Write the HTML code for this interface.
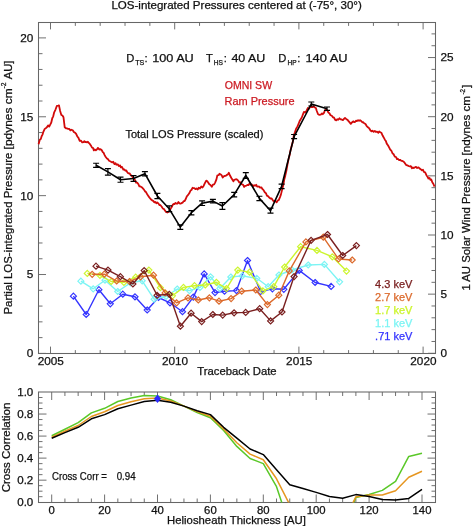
<!DOCTYPE html>
<html><head><meta charset="utf-8"><style>
html,body{margin:0;padding:0;background:#fff;}
svg{display:block;will-change:transform;}
text{font-family:"Liberation Sans", sans-serif;stroke:currentColor;stroke-width:0.25px;}
</style></head><body>
<svg width="473" height="526" viewBox="0 0 473 526">
<rect width="473" height="526" fill="#fff"/>
<line x1="50.50" y1="353.50" x2="50.50" y2="346.60" stroke="#707070" stroke-width="1.0"/>
<line x1="50.50" y1="22.50" x2="50.50" y2="29.40" stroke="#707070" stroke-width="1.0"/>
<line x1="75.34" y1="353.50" x2="75.34" y2="350.10" stroke="#707070" stroke-width="1.0"/>
<line x1="75.34" y1="22.50" x2="75.34" y2="25.90" stroke="#707070" stroke-width="1.0"/>
<line x1="100.18" y1="353.50" x2="100.18" y2="350.10" stroke="#707070" stroke-width="1.0"/>
<line x1="100.18" y1="22.50" x2="100.18" y2="25.90" stroke="#707070" stroke-width="1.0"/>
<line x1="125.02" y1="353.50" x2="125.02" y2="350.10" stroke="#707070" stroke-width="1.0"/>
<line x1="125.02" y1="22.50" x2="125.02" y2="25.90" stroke="#707070" stroke-width="1.0"/>
<line x1="149.86" y1="353.50" x2="149.86" y2="350.10" stroke="#707070" stroke-width="1.0"/>
<line x1="149.86" y1="22.50" x2="149.86" y2="25.90" stroke="#707070" stroke-width="1.0"/>
<line x1="174.70" y1="353.50" x2="174.70" y2="346.60" stroke="#707070" stroke-width="1.0"/>
<line x1="174.70" y1="22.50" x2="174.70" y2="29.40" stroke="#707070" stroke-width="1.0"/>
<line x1="199.54" y1="353.50" x2="199.54" y2="350.10" stroke="#707070" stroke-width="1.0"/>
<line x1="199.54" y1="22.50" x2="199.54" y2="25.90" stroke="#707070" stroke-width="1.0"/>
<line x1="224.38" y1="353.50" x2="224.38" y2="350.10" stroke="#707070" stroke-width="1.0"/>
<line x1="224.38" y1="22.50" x2="224.38" y2="25.90" stroke="#707070" stroke-width="1.0"/>
<line x1="249.22" y1="353.50" x2="249.22" y2="350.10" stroke="#707070" stroke-width="1.0"/>
<line x1="249.22" y1="22.50" x2="249.22" y2="25.90" stroke="#707070" stroke-width="1.0"/>
<line x1="274.06" y1="353.50" x2="274.06" y2="350.10" stroke="#707070" stroke-width="1.0"/>
<line x1="274.06" y1="22.50" x2="274.06" y2="25.90" stroke="#707070" stroke-width="1.0"/>
<line x1="298.90" y1="353.50" x2="298.90" y2="346.60" stroke="#707070" stroke-width="1.0"/>
<line x1="298.90" y1="22.50" x2="298.90" y2="29.40" stroke="#707070" stroke-width="1.0"/>
<line x1="323.74" y1="353.50" x2="323.74" y2="350.10" stroke="#707070" stroke-width="1.0"/>
<line x1="323.74" y1="22.50" x2="323.74" y2="25.90" stroke="#707070" stroke-width="1.0"/>
<line x1="348.58" y1="353.50" x2="348.58" y2="350.10" stroke="#707070" stroke-width="1.0"/>
<line x1="348.58" y1="22.50" x2="348.58" y2="25.90" stroke="#707070" stroke-width="1.0"/>
<line x1="373.42" y1="353.50" x2="373.42" y2="350.10" stroke="#707070" stroke-width="1.0"/>
<line x1="373.42" y1="22.50" x2="373.42" y2="25.90" stroke="#707070" stroke-width="1.0"/>
<line x1="398.26" y1="353.50" x2="398.26" y2="350.10" stroke="#707070" stroke-width="1.0"/>
<line x1="398.26" y1="22.50" x2="398.26" y2="25.90" stroke="#707070" stroke-width="1.0"/>
<line x1="423.10" y1="353.50" x2="423.10" y2="346.60" stroke="#707070" stroke-width="1.0"/>
<line x1="423.10" y1="22.50" x2="423.10" y2="29.40" stroke="#707070" stroke-width="1.0"/>
<line x1="38.50" y1="353.40" x2="46.00" y2="353.40" stroke="#707070" stroke-width="1.0"/>
<line x1="38.50" y1="337.62" x2="42.50" y2="337.62" stroke="#707070" stroke-width="1.0"/>
<line x1="38.50" y1="321.85" x2="42.50" y2="321.85" stroke="#707070" stroke-width="1.0"/>
<line x1="38.50" y1="306.07" x2="42.50" y2="306.07" stroke="#707070" stroke-width="1.0"/>
<line x1="38.50" y1="290.30" x2="42.50" y2="290.30" stroke="#707070" stroke-width="1.0"/>
<line x1="38.50" y1="274.52" x2="46.00" y2="274.52" stroke="#707070" stroke-width="1.0"/>
<line x1="38.50" y1="258.75" x2="42.50" y2="258.75" stroke="#707070" stroke-width="1.0"/>
<line x1="38.50" y1="242.97" x2="42.50" y2="242.97" stroke="#707070" stroke-width="1.0"/>
<line x1="38.50" y1="227.20" x2="42.50" y2="227.20" stroke="#707070" stroke-width="1.0"/>
<line x1="38.50" y1="211.42" x2="42.50" y2="211.42" stroke="#707070" stroke-width="1.0"/>
<line x1="38.50" y1="195.65" x2="46.00" y2="195.65" stroke="#707070" stroke-width="1.0"/>
<line x1="38.50" y1="179.87" x2="42.50" y2="179.87" stroke="#707070" stroke-width="1.0"/>
<line x1="38.50" y1="164.10" x2="42.50" y2="164.10" stroke="#707070" stroke-width="1.0"/>
<line x1="38.50" y1="148.32" x2="42.50" y2="148.32" stroke="#707070" stroke-width="1.0"/>
<line x1="38.50" y1="132.55" x2="42.50" y2="132.55" stroke="#707070" stroke-width="1.0"/>
<line x1="38.50" y1="116.77" x2="46.00" y2="116.77" stroke="#707070" stroke-width="1.0"/>
<line x1="38.50" y1="101.00" x2="42.50" y2="101.00" stroke="#707070" stroke-width="1.0"/>
<line x1="38.50" y1="85.22" x2="42.50" y2="85.22" stroke="#707070" stroke-width="1.0"/>
<line x1="38.50" y1="69.45" x2="42.50" y2="69.45" stroke="#707070" stroke-width="1.0"/>
<line x1="38.50" y1="53.67" x2="42.50" y2="53.67" stroke="#707070" stroke-width="1.0"/>
<line x1="38.50" y1="37.90" x2="46.00" y2="37.90" stroke="#707070" stroke-width="1.0"/>
<line x1="435.50" y1="353.30" x2="428.00" y2="353.30" stroke="#707070" stroke-width="1.0"/>
<line x1="435.50" y1="341.47" x2="431.50" y2="341.47" stroke="#707070" stroke-width="1.0"/>
<line x1="435.50" y1="329.64" x2="431.50" y2="329.64" stroke="#707070" stroke-width="1.0"/>
<line x1="435.50" y1="317.81" x2="431.50" y2="317.81" stroke="#707070" stroke-width="1.0"/>
<line x1="435.50" y1="305.98" x2="431.50" y2="305.98" stroke="#707070" stroke-width="1.0"/>
<line x1="435.50" y1="294.15" x2="428.00" y2="294.15" stroke="#707070" stroke-width="1.0"/>
<line x1="435.50" y1="282.32" x2="431.50" y2="282.32" stroke="#707070" stroke-width="1.0"/>
<line x1="435.50" y1="270.49" x2="431.50" y2="270.49" stroke="#707070" stroke-width="1.0"/>
<line x1="435.50" y1="258.66" x2="431.50" y2="258.66" stroke="#707070" stroke-width="1.0"/>
<line x1="435.50" y1="246.83" x2="431.50" y2="246.83" stroke="#707070" stroke-width="1.0"/>
<line x1="435.50" y1="235.00" x2="428.00" y2="235.00" stroke="#707070" stroke-width="1.0"/>
<line x1="435.50" y1="223.17" x2="431.50" y2="223.17" stroke="#707070" stroke-width="1.0"/>
<line x1="435.50" y1="211.34" x2="431.50" y2="211.34" stroke="#707070" stroke-width="1.0"/>
<line x1="435.50" y1="199.51" x2="431.50" y2="199.51" stroke="#707070" stroke-width="1.0"/>
<line x1="435.50" y1="187.68" x2="431.50" y2="187.68" stroke="#707070" stroke-width="1.0"/>
<line x1="435.50" y1="175.85" x2="428.00" y2="175.85" stroke="#707070" stroke-width="1.0"/>
<line x1="435.50" y1="164.02" x2="431.50" y2="164.02" stroke="#707070" stroke-width="1.0"/>
<line x1="435.50" y1="152.19" x2="431.50" y2="152.19" stroke="#707070" stroke-width="1.0"/>
<line x1="435.50" y1="140.36" x2="431.50" y2="140.36" stroke="#707070" stroke-width="1.0"/>
<line x1="435.50" y1="128.53" x2="431.50" y2="128.53" stroke="#707070" stroke-width="1.0"/>
<line x1="435.50" y1="116.70" x2="428.00" y2="116.70" stroke="#707070" stroke-width="1.0"/>
<line x1="435.50" y1="104.87" x2="431.50" y2="104.87" stroke="#707070" stroke-width="1.0"/>
<line x1="435.50" y1="93.04" x2="431.50" y2="93.04" stroke="#707070" stroke-width="1.0"/>
<line x1="435.50" y1="81.21" x2="431.50" y2="81.21" stroke="#707070" stroke-width="1.0"/>
<line x1="435.50" y1="69.38" x2="431.50" y2="69.38" stroke="#707070" stroke-width="1.0"/>
<line x1="435.50" y1="57.55" x2="428.00" y2="57.55" stroke="#707070" stroke-width="1.0"/>
<line x1="435.50" y1="45.72" x2="431.50" y2="45.72" stroke="#707070" stroke-width="1.0"/>
<line x1="435.50" y1="33.89" x2="431.50" y2="33.89" stroke="#707070" stroke-width="1.0"/>
<rect x="38.5" y="22.5" width="397.0" height="331.0" fill="none" stroke="#666666" stroke-width="1.05"/>
<polyline points="38.60,144.24 39.79,139.68 40.81,139.01 41.63,136.24 42.49,134.62 43.36,131.79 44.73,128.87 46.12,127.92 47.09,127.01 48.07,125.33 49.22,126.55 50.35,124.36 51.28,122.53 52.26,118.27 53.24,116.32 54.19,112.33 55.52,109.52 56.90,105.77 58.16,105.58 58.98,105.35 60.13,110.93 61.34,114.95 62.42,115.51 63.50,117.28 64.72,127.27 66.01,128.31 67.22,128.45 68.12,128.94 69.38,128.98 70.41,130.37 71.48,129.73 72.77,130.22 73.82,132.01 75.20,132.83 76.14,133.91 77.29,136.49 78.34,137.70 79.71,140.85 80.88,140.58 82.22,142.35 83.50,142.07 84.36,141.17 85.20,142.12 86.21,141.93 87.10,142.42 87.91,141.73 88.80,142.93 89.82,143.96 91.22,146.11 92.07,147.69 93.03,147.95 93.84,150.34 94.73,149.43 95.85,150.22 97.06,149.19 97.97,147.87 99.23,149.56 100.52,149.20 101.80,150.27 102.74,152.12 103.56,152.73 104.51,154.89 105.58,156.75 106.95,158.57 107.89,159.09 109.06,160.76 110.15,161.23 111.00,161.68 112.27,162.41 113.18,161.78 114.46,164.12 115.50,163.21 116.40,164.72 117.75,164.40 119.04,166.14 120.05,165.36 120.86,167.41 121.98,166.96 123.30,169.68 124.25,169.41 125.40,170.78 126.28,170.36 127.36,172.34 128.41,173.44 129.53,173.32 130.59,175.06 131.87,175.86 133.11,178.18 134.22,178.93 135.08,180.27 136.05,182.60 137.18,182.64 138.25,183.98 139.36,186.37 140.48,186.43 141.70,187.18 142.65,188.21 143.96,189.60 145.02,191.36 145.87,191.87 147.20,194.20 148.40,196.13 149.78,197.95 150.82,199.28 152.12,200.40 153.23,200.88 154.22,202.34 155.35,201.91 156.35,203.35 157.19,202.41 158.57,203.67 159.40,205.16 160.27,205.02 161.56,206.48 162.92,208.62 163.77,208.83 164.82,210.18 166.01,211.95 167.32,212.54 168.39,212.00 169.75,210.65 170.86,208.18 171.76,206.98 172.75,204.76 173.72,203.94 174.73,204.00 175.54,202.87 176.45,203.60 177.32,203.64 178.41,202.03 179.52,203.33 180.52,203.67 181.70,202.89 182.54,202.75 183.78,201.04 184.63,201.16 185.84,198.78 186.81,196.34 187.88,195.22 189.26,193.34 190.64,190.47 191.44,189.99 192.54,187.78 193.35,188.04 194.39,188.21 195.37,189.16 196.49,188.43 197.72,189.48 198.71,187.73 199.95,188.48 201.25,186.55 202.49,187.45 203.60,185.97 204.88,183.13 206.22,180.70 207.16,181.02 208.17,182.42 209.31,184.26 210.52,184.94 211.80,186.87 212.92,184.68 214.16,184.41 215.12,182.62 216.36,179.63 217.39,175.30 218.65,175.22 219.50,173.78 220.75,174.47 221.55,175.12 222.76,177.51 223.73,176.34 224.81,175.95 225.73,175.82 226.54,175.07 227.92,174.39 228.85,172.76 230.00,175.51 231.37,178.04 232.47,179.73 233.41,181.36 234.23,179.92 235.30,179.52 236.30,179.16 237.10,179.63 237.98,180.35 239.32,182.57 240.35,182.26 241.37,184.23 242.20,184.43 243.17,184.82 244.13,186.99 245.15,185.95 246.44,185.54 247.81,184.81 248.63,185.08 249.89,182.81 250.72,184.74 251.80,184.48 253.04,186.28 254.24,185.19 255.27,185.72 256.20,184.77 257.13,186.60 258.20,186.60 259.05,186.49 260.00,187.58 261.33,187.34 262.38,188.96 263.38,189.85 264.76,192.27 265.94,193.16 266.90,195.58 267.97,196.14 269.29,197.52 270.52,198.66 271.67,198.47 273.03,200.61 274.41,201.42 275.30,200.89 276.67,202.28 277.93,200.28 278.75,200.09 280.10,196.84 280.98,194.40 282.20,189.40 283.31,184.98 284.25,179.59 285.23,175.93 286.42,170.54 287.36,165.04 288.58,159.14 289.68,154.76 290.63,149.62 291.57,146.23 292.62,142.61 293.90,134.99 294.82,132.59 296.11,128.78 297.37,126.66 298.47,124.23 299.52,121.30 300.41,119.71 301.79,117.52 302.63,115.20 303.96,111.89 305.32,112.56 306.68,110.39 307.88,108.00 308.87,108.82 309.84,107.47 310.72,105.62 311.73,107.21 312.79,107.22 313.81,106.22 314.83,107.40 315.88,108.03 316.70,110.78 318.06,114.21 319.39,114.81 320.77,114.63 322.00,113.43 322.80,114.20 323.98,112.92 324.92,110.29 326.29,109.67 327.35,110.35 328.26,112.39 329.56,113.48 330.55,115.20 331.82,115.77 333.07,117.45 333.89,117.49 335.28,119.98 336.24,120.31 337.34,119.26 338.28,119.81 339.48,118.32 340.68,119.33 341.66,119.49 342.90,120.10 343.85,118.95 345.00,117.99 346.39,119.19 347.68,119.91 348.54,121.19 349.84,122.64 350.82,123.83 352.20,122.20 353.23,121.31 354.18,122.21 355.05,121.84 355.98,120.70 356.90,121.08 358.09,120.23 359.09,120.76 360.07,120.25 361.20,121.01 362.24,122.25 363.09,122.05 364.14,123.24 365.51,124.04 366.53,125.79 367.92,127.29 369.16,128.18 370.50,130.44 371.55,131.30 372.44,130.68 373.63,131.81 374.80,131.00 375.69,131.85 377.04,131.61 378.33,132.78 379.20,131.40 380.29,132.21 381.33,132.73 382.62,135.57 383.55,137.19 384.85,139.67 385.89,141.09 386.76,143.60 388.10,145.46 389.36,147.81 390.23,149.67 391.40,150.75 392.55,153.33 393.62,154.27 394.79,156.56 396.05,156.99 396.96,159.16 397.84,158.76 398.90,160.00 400.08,159.80 401.35,160.87 402.45,160.96 403.33,161.48 404.57,162.72 405.96,164.83 407.31,165.35 408.67,166.03 409.92,166.27 410.89,166.27 411.99,168.21 412.95,167.47 413.77,168.14 415.13,167.15 416.03,166.96 417.15,168.01 418.48,167.33 419.80,168.63 420.98,169.39 421.94,170.27 422.96,169.74 423.86,171.93 425.16,172.36 426.55,175.46 427.53,176.78 428.42,178.49 429.53,177.98 430.47,179.89 431.27,179.53 432.28,182.15 433.44,183.99 434.52,186.63" fill="none" stroke="#d20a0a" stroke-width="1.8" stroke-linejoin="round"/>
<polyline points="96.1,165.3 107.9,171.9 120.5,179.7 133.5,178.5 144.9,173.7 157.4,196.0 169.2,208.8 180.3,227.1 191.4,212.7 202.1,203.2 212.9,201.1 222.4,206.0 234.2,194.6 245.8,175.5 259.4,198.4 270.5,210.7 281.6,186.3 294.1,136.6 311.3,104.0 327.0,108.7" fill="none" stroke="#000" stroke-width="1.6" stroke-linejoin="round"/>
<path d="M96.1,163.25V167.35000000000002M93.1,163.25H99.1M93.1,167.35000000000002H99.1" stroke="#000" stroke-width="1.2" fill="none"/>
<path d="M107.9,168.6V175.20000000000002M104.9,168.6H110.9M104.9,175.20000000000002H110.9" stroke="#000" stroke-width="1.2" fill="none"/>
<path d="M120.5,177.14999999999998V182.25M117.5,177.14999999999998H123.5M117.5,182.25H123.5" stroke="#000" stroke-width="1.2" fill="none"/>
<path d="M133.5,175.6V181.4M130.5,175.6H136.5M130.5,181.4H136.5" stroke="#000" stroke-width="1.2" fill="none"/>
<path d="M144.9,171.6V175.79999999999998M141.9,171.6H147.9M141.9,175.79999999999998H147.9" stroke="#000" stroke-width="1.2" fill="none"/>
<path d="M157.4,193.35V198.65M154.4,193.35H160.4M154.4,198.65H160.4" stroke="#000" stroke-width="1.2" fill="none"/>
<path d="M169.2,205.95000000000002V211.65M166.2,205.95000000000002H172.2M166.2,211.65H172.2" stroke="#000" stroke-width="1.2" fill="none"/>
<path d="M180.3,224.79999999999998V229.4M177.3,224.79999999999998H183.3M177.3,229.4H183.3" stroke="#000" stroke-width="1.2" fill="none"/>
<path d="M191.4,210.54999999999998V214.85M188.4,210.54999999999998H194.4M188.4,214.85H194.4" stroke="#000" stroke-width="1.2" fill="none"/>
<path d="M202.1,200.89999999999998V205.5M199.1,200.89999999999998H205.1M199.1,205.5H205.1" stroke="#000" stroke-width="1.2" fill="none"/>
<path d="M212.9,199.29999999999998V202.9M209.9,199.29999999999998H215.9M209.9,202.9H215.9" stroke="#000" stroke-width="1.2" fill="none"/>
<path d="M222.4,202.7V209.3M219.4,202.7H225.4M219.4,209.3H225.4" stroke="#000" stroke-width="1.2" fill="none"/>
<path d="M234.2,192.29999999999998V196.9M231.2,192.29999999999998H237.2M231.2,196.9H237.2" stroke="#000" stroke-width="1.2" fill="none"/>
<path d="M245.8,172.6V178.4M242.8,172.6H248.8M242.8,178.4H248.8" stroke="#000" stroke-width="1.2" fill="none"/>
<path d="M259.4,196.25V200.55M256.4,196.25H262.4M256.4,200.55H262.4" stroke="#000" stroke-width="1.2" fill="none"/>
<path d="M270.5,208.2V213.2M267.5,208.2H273.5M267.5,213.2H273.5" stroke="#000" stroke-width="1.2" fill="none"/>
<path d="M281.6,184.05V188.55M278.6,184.05H284.6M278.6,188.55H284.6" stroke="#000" stroke-width="1.2" fill="none"/>
<path d="M294.1,134.5V138.7M291.1,134.5H297.1M291.1,138.7H297.1" stroke="#000" stroke-width="1.2" fill="none"/>
<path d="M311.3,102.0V106.0M308.3,102.0H314.3M308.3,106.0H314.3" stroke="#000" stroke-width="1.2" fill="none"/>
<path d="M327.0,107.0V110.4M324.0,107.0H330.0M324.0,110.4H330.0" stroke="#000" stroke-width="1.2" fill="none"/>
<polyline points="73.4,296.2 86.2,314.5 98.9,289.7 110.3,303.8 122.8,294.2 135,296.8 147.2,310 158.5,297.5 170,302.8 182.5,311.7 193.3,297.1 204.2,273.9 215,292.6 224.5,291.2 236.5,290.6 247.5,260.5 260.5,291.6 272.4,288.8 283.8,289.3 299.2,270.4 315.1,282.5 331.1,286.4" fill="none" stroke="#3434ff" stroke-width="1.4" stroke-linejoin="round"/>
<path d="M73.4,293.2L76.4,296.2L73.4,299.2L70.4,296.2ZM86.2,311.5L89.2,314.5L86.2,317.5L83.2,314.5ZM98.9,286.7L101.9,289.7L98.9,292.7L95.9,289.7ZM110.3,300.8L113.3,303.8L110.3,306.8L107.3,303.8ZM122.8,291.2L125.8,294.2L122.8,297.2L119.8,294.2ZM135,293.8L138.0,296.8L135,299.8L132.0,296.8ZM147.2,307.0L150.2,310L147.2,313.0L144.2,310ZM158.5,294.5L161.5,297.5L158.5,300.5L155.5,297.5ZM170,299.8L173.0,302.8L170,305.8L167.0,302.8ZM182.5,308.7L185.5,311.7L182.5,314.7L179.5,311.7ZM193.3,294.1L196.3,297.1L193.3,300.1L190.3,297.1ZM204.2,270.9L207.2,273.9L204.2,276.9L201.2,273.9ZM215,289.6L218.0,292.6L215,295.6L212.0,292.6ZM224.5,288.2L227.5,291.2L224.5,294.2L221.5,291.2ZM236.5,287.6L239.5,290.6L236.5,293.6L233.5,290.6ZM247.5,257.5L250.5,260.5L247.5,263.5L244.5,260.5ZM260.5,288.6L263.5,291.6L260.5,294.6L257.5,291.6ZM272.4,285.8L275.4,288.8L272.4,291.8L269.4,288.8ZM283.8,286.3L286.8,289.3L283.8,292.3L280.8,289.3ZM299.2,267.4L302.2,270.4L299.2,273.4L296.2,270.4ZM315.1,279.5L318.1,282.5L315.1,285.5L312.1,282.5ZM331.1,283.4L334.1,286.4L331.1,289.4L328.1,286.4Z" fill="none" stroke="#3434ff" stroke-width="1.2"/>
<polyline points="80.9,281.2 93.2,288.8 105,280.2 117.7,291.5 130.4,282.8 142.2,280.8 154.1,299.2 166,296.5 177.2,289 189.4,290.6 200,287.4 210.6,276.8 219.9,288.4 230.8,277 242.2,275.9 256.8,278.3 268.2,286.7 278.9,275 292,270 308.2,265 324.4,264.4 339.6,281.8" fill="none" stroke="#7cf4f4" stroke-width="1.4" stroke-linejoin="round"/>
<path d="M80.9,278.2L83.9,281.2L80.9,284.2L77.9,281.2ZM93.2,285.8L96.2,288.8L93.2,291.8L90.2,288.8ZM105,277.2L108.0,280.2L105,283.2L102.0,280.2ZM117.7,288.5L120.7,291.5L117.7,294.5L114.7,291.5ZM130.4,279.8L133.4,282.8L130.4,285.8L127.4,282.8ZM142.2,277.8L145.2,280.8L142.2,283.8L139.2,280.8ZM154.1,296.2L157.1,299.2L154.1,302.2L151.1,299.2ZM166,293.5L169.0,296.5L166,299.5L163.0,296.5ZM177.2,286.0L180.2,289L177.2,292.0L174.2,289ZM189.4,287.6L192.4,290.6L189.4,293.6L186.4,290.6ZM200,284.4L203.0,287.4L200,290.4L197.0,287.4ZM210.6,273.8L213.6,276.8L210.6,279.8L207.6,276.8ZM219.9,285.4L222.9,288.4L219.9,291.4L216.9,288.4ZM230.8,274.0L233.8,277L230.8,280.0L227.8,277ZM242.2,272.9L245.2,275.9L242.2,278.9L239.2,275.9ZM256.8,275.3L259.8,278.3L256.8,281.3L253.8,278.3ZM268.2,283.7L271.2,286.7L268.2,289.7L265.2,286.7ZM278.9,272.0L281.9,275L278.9,278.0L275.9,275ZM292,267.0L295.0,270L292,273.0L289.0,270ZM308.2,262.0L311.2,265L308.2,268.0L305.2,265ZM324.4,261.4L327.4,264.4L324.4,267.4L321.4,264.4ZM339.6,278.8L342.6,281.8L339.6,284.8L336.6,281.8Z" fill="none" stroke="#7cf4f4" stroke-width="1.2"/>
<polyline points="87.3,273.4 100,275.3 111.2,281.5 123.9,282.4 135.7,277.2 148.9,270.1 160.4,287.7 172.4,295.8 183.5,287.4 194.5,285.7 205.3,285 216.4,282.3 226.5,288.6 237.8,270.1 249.6,272.2 262.9,290.9 273.8,286.7 284.6,267 300.6,246.7 317,250.4 332.3,256.8 346.5,271.1" fill="none" stroke="#ccf52e" stroke-width="1.4" stroke-linejoin="round"/>
<path d="M87.3,270.4L90.3,273.4L87.3,276.4L84.3,273.4ZM100,272.3L103.0,275.3L100,278.3L97.0,275.3ZM111.2,278.5L114.2,281.5L111.2,284.5L108.2,281.5ZM123.9,279.4L126.9,282.4L123.9,285.4L120.9,282.4ZM135.7,274.2L138.7,277.2L135.7,280.2L132.7,277.2ZM148.9,267.1L151.9,270.1L148.9,273.1L145.9,270.1ZM160.4,284.7L163.4,287.7L160.4,290.7L157.4,287.7ZM172.4,292.8L175.4,295.8L172.4,298.8L169.4,295.8ZM183.5,284.4L186.5,287.4L183.5,290.4L180.5,287.4ZM194.5,282.7L197.5,285.7L194.5,288.7L191.5,285.7ZM205.3,282.0L208.3,285L205.3,288.0L202.3,285ZM216.4,279.3L219.4,282.3L216.4,285.3L213.4,282.3ZM226.5,285.6L229.5,288.6L226.5,291.6L223.5,288.6ZM237.8,267.1L240.8,270.1L237.8,273.1L234.8,270.1ZM249.6,269.2L252.6,272.2L249.6,275.2L246.6,272.2ZM262.9,287.9L265.9,290.9L262.9,293.9L259.9,290.9ZM273.8,283.7L276.8,286.7L273.8,289.7L270.8,286.7ZM284.6,264.0L287.6,267L284.6,270.0L281.6,267ZM300.6,243.7L303.6,246.7L300.6,249.7L297.6,246.7ZM317,247.4L320.0,250.4L317,253.4L314.0,250.4ZM332.3,253.8L335.3,256.8L332.3,259.8L329.3,256.8ZM346.5,268.1L349.5,271.1L346.5,274.1L343.5,271.1Z" fill="none" stroke="#ccf52e" stroke-width="1.2"/>
<polyline points="92.2,274.3 104.3,274.2 116.7,281 129.5,281.5 140.6,276.8 153.5,275.2 165.1,292.9 176.6,302.8 188,297.9 198.3,300 209.4,297.8 219,301.2 231.1,298.6 241.7,291.2 255.8,290 267.4,304.6 278.8,295.2 289.3,270.9 305.9,241.9 323.3,237.2 338.5,259 352.2,260" fill="none" stroke="#dc6a2c" stroke-width="1.4" stroke-linejoin="round"/>
<path d="M92.2,271.3L95.2,274.3L92.2,277.3L89.2,274.3ZM104.3,271.2L107.3,274.2L104.3,277.2L101.3,274.2ZM116.7,278.0L119.7,281L116.7,284.0L113.7,281ZM129.5,278.5L132.5,281.5L129.5,284.5L126.5,281.5ZM140.6,273.8L143.6,276.8L140.6,279.8L137.6,276.8ZM153.5,272.2L156.5,275.2L153.5,278.2L150.5,275.2ZM165.1,289.9L168.1,292.9L165.1,295.9L162.1,292.9ZM176.6,299.8L179.6,302.8L176.6,305.8L173.6,302.8ZM188,294.9L191.0,297.9L188,300.9L185.0,297.9ZM198.3,297.0L201.3,300L198.3,303.0L195.3,300ZM209.4,294.8L212.4,297.8L209.4,300.8L206.4,297.8ZM219,298.2L222.0,301.2L219,304.2L216.0,301.2ZM231.1,295.6L234.1,298.6L231.1,301.6L228.1,298.6ZM241.7,288.2L244.7,291.2L241.7,294.2L238.7,291.2ZM255.8,287.0L258.8,290L255.8,293.0L252.8,290ZM267.4,301.6L270.4,304.6L267.4,307.6L264.4,304.6ZM278.8,292.2L281.8,295.2L278.8,298.2L275.8,295.2ZM289.3,267.9L292.3,270.9L289.3,273.9L286.3,270.9ZM305.9,238.9L308.9,241.9L305.9,244.9L302.9,241.9ZM323.3,234.2L326.3,237.2L323.3,240.2L320.3,237.2ZM338.5,256.0L341.5,259L338.5,262.0L335.5,259ZM352.2,257.0L355.2,260L352.2,263.0L349.2,260Z" fill="none" stroke="#dc6a2c" stroke-width="1.2"/>
<polyline points="96.0,266.2 108.0,270.1 120.4,276.7 132.9,284.0 144.2,270.6 157.1,295.3 169.3,294.3 180.4,326.2 191.1,313.2 201.7,321.6 212.8,314.5 222.7,315.1 234.1,312.8 245.7,312.4 259.7,308.7 270.6,320.9 282,312 294.1,276.6 311.1,240.3 327.5,234.5 342.7,255.5 356.4,245.6" fill="none" stroke="#7a2020" stroke-width="1.4" stroke-linejoin="round"/>
<path d="M96.0,263.2L99.0,266.2L96.0,269.2L93.0,266.2ZM108.0,267.1L111.0,270.1L108.0,273.1L105.0,270.1ZM120.4,273.7L123.4,276.7L120.4,279.7L117.4,276.7ZM132.9,281.0L135.9,284.0L132.9,287.0L129.9,284.0ZM144.2,267.6L147.2,270.6L144.2,273.6L141.2,270.6ZM157.1,292.3L160.1,295.3L157.1,298.3L154.1,295.3ZM169.3,291.3L172.3,294.3L169.3,297.3L166.3,294.3ZM180.4,323.2L183.4,326.2L180.4,329.2L177.4,326.2ZM191.1,310.2L194.1,313.2L191.1,316.2L188.1,313.2ZM201.7,318.6L204.7,321.6L201.7,324.6L198.7,321.6ZM212.8,311.5L215.8,314.5L212.8,317.5L209.8,314.5ZM222.7,312.1L225.7,315.1L222.7,318.1L219.7,315.1ZM234.1,309.8L237.1,312.8L234.1,315.8L231.1,312.8ZM245.7,309.4L248.7,312.4L245.7,315.4L242.7,312.4ZM259.7,305.7L262.7,308.7L259.7,311.7L256.7,308.7ZM270.6,317.9L273.6,320.9L270.6,323.9L267.6,320.9ZM282,309.0L285.0,312L282,315.0L279.0,312ZM294.1,273.6L297.1,276.6L294.1,279.6L291.1,276.6ZM311.1,237.3L314.1,240.3L311.1,243.3L308.1,240.3ZM327.5,231.5L330.5,234.5L327.5,237.5L324.5,234.5ZM342.7,252.5L345.7,255.5L342.7,258.5L339.7,255.5ZM356.4,242.6L359.4,245.6L356.4,248.6L353.4,245.6Z" fill="none" stroke="#7a2020" stroke-width="1.2"/>
<text x="111.4" y="9.0" font-size="10.4" text-anchor="start" fill="#111" color="#111" textLength="250.4" lengthAdjust="spacingAndGlyphs">LOS-integrated Pressures centered at (-75°, 30°)</text>
<text x="126.2" y="61.7" font-size="11.2" text-anchor="start" fill="#111" color="#111">D</text>
<text x="135.2" y="64.6" font-size="6.8" text-anchor="start" fill="#111" color="#111" textLength="9.0" lengthAdjust="spacingAndGlyphs">TS</text>
<text x="144.6" y="61.7" font-size="11.2" text-anchor="start" fill="#111" color="#111">:</text>
<text x="152.2" y="61.7" font-size="11.2" text-anchor="start" fill="#111" color="#111" textLength="41.6" lengthAdjust="spacingAndGlyphs">100 AU</text>
<text x="206.1" y="61.7" font-size="11.2" text-anchor="start" fill="#111" color="#111">T</text>
<text x="213.7" y="64.6" font-size="6.8" text-anchor="start" fill="#111" color="#111" textLength="9.2" lengthAdjust="spacingAndGlyphs">HS</text>
<text x="223.7" y="61.7" font-size="11.2" text-anchor="start" fill="#111" color="#111">:</text>
<text x="231.4" y="61.7" font-size="11.2" text-anchor="start" fill="#111" color="#111" textLength="34.0" lengthAdjust="spacingAndGlyphs">40 AU</text>
<text x="278.2" y="61.7" font-size="11.2" text-anchor="start" fill="#111" color="#111">D</text>
<text x="287.5" y="64.6" font-size="6.8" text-anchor="start" fill="#111" color="#111" textLength="9.1" lengthAdjust="spacingAndGlyphs">HP</text>
<text x="297.2" y="61.7" font-size="11.2" text-anchor="start" fill="#111" color="#111">:</text>
<text x="305.4" y="61.7" font-size="11.2" text-anchor="start" fill="#111" color="#111" textLength="42.2" lengthAdjust="spacingAndGlyphs">140 AU</text>
<text x="224.7" y="88.6" font-size="10.8" text-anchor="start" fill="#cc1a22" color="#cc1a22" textLength="47.4" lengthAdjust="spacingAndGlyphs">OMNI SW</text>
<text x="224.5" y="105.1" font-size="10.8" text-anchor="start" fill="#cc1a22" color="#cc1a22" textLength="70" lengthAdjust="spacingAndGlyphs">Ram Pressure</text>
<text x="125.4" y="137.9" font-size="10.8" text-anchor="start" fill="#111" color="#111" textLength="138" lengthAdjust="spacingAndGlyphs">Total LOS Pressure (scaled)</text>
<text x="412.4" y="287.90" font-size="11" text-anchor="end" fill="#7a2020" color="#7a2020">4.3 keV</text>
<text x="412.4" y="300.83" font-size="11" text-anchor="end" fill="#dc6a2c" color="#dc6a2c">2.7 keV</text>
<text x="412.4" y="313.76" font-size="11" text-anchor="end" fill="#ccf52e" color="#ccf52e">1.7 keV</text>
<text x="412.4" y="326.69" font-size="11" text-anchor="end" fill="#7cf4f4" color="#7cf4f4">1.1 keV</text>
<text x="412.4" y="339.62" font-size="11" text-anchor="end" fill="#3434ff" color="#3434ff">.71 keV</text>
<text x="33.4" y="357.30" font-size="11" text-anchor="end" fill="#111" color="#111" textLength="6.55" lengthAdjust="spacingAndGlyphs">0</text>
<text x="33.4" y="278.42" font-size="11" text-anchor="end" fill="#111" color="#111" textLength="6.55" lengthAdjust="spacingAndGlyphs">5</text>
<text x="33.4" y="199.55" font-size="11" text-anchor="end" fill="#111" color="#111" textLength="13.09" lengthAdjust="spacingAndGlyphs">10</text>
<text x="33.4" y="120.67" font-size="11" text-anchor="end" fill="#111" color="#111" textLength="13.09" lengthAdjust="spacingAndGlyphs">15</text>
<text x="33.4" y="41.80" font-size="11" text-anchor="end" fill="#111" color="#111" textLength="13.09" lengthAdjust="spacingAndGlyphs">20</text>
<text x="440.4" y="357.20" font-size="11" text-anchor="start" fill="#111" color="#111" textLength="6.55" lengthAdjust="spacingAndGlyphs">0</text>
<text x="440.4" y="298.05" font-size="11" text-anchor="start" fill="#111" color="#111" textLength="6.55" lengthAdjust="spacingAndGlyphs">5</text>
<text x="440.4" y="238.90" font-size="11" text-anchor="start" fill="#111" color="#111" textLength="13.09" lengthAdjust="spacingAndGlyphs">10</text>
<text x="440.4" y="179.75" font-size="11" text-anchor="start" fill="#111" color="#111" textLength="13.09" lengthAdjust="spacingAndGlyphs">15</text>
<text x="440.4" y="120.60" font-size="11" text-anchor="start" fill="#111" color="#111" textLength="13.09" lengthAdjust="spacingAndGlyphs">20</text>
<text x="440.4" y="61.45" font-size="11" text-anchor="start" fill="#111" color="#111" textLength="13.09" lengthAdjust="spacingAndGlyphs">25</text>
<text x="50.80" y="364.8" font-size="11" text-anchor="middle" fill="#111" color="#111" textLength="26.18" lengthAdjust="spacingAndGlyphs">2005</text>
<text x="175.00" y="364.8" font-size="11" text-anchor="middle" fill="#111" color="#111" textLength="26.18" lengthAdjust="spacingAndGlyphs">2010</text>
<text x="299.20" y="364.8" font-size="11" text-anchor="middle" fill="#111" color="#111" textLength="26.18" lengthAdjust="spacingAndGlyphs">2015</text>
<text x="423.40" y="364.8" font-size="11" text-anchor="middle" fill="#111" color="#111" textLength="26.18" lengthAdjust="spacingAndGlyphs">2020</text>
<text x="237" y="375.2" font-size="10.6" text-anchor="middle" fill="#111" color="#111" textLength="79.3" lengthAdjust="spacingAndGlyphs">Traceback Date</text>
<text transform="translate(11.9,314.6) rotate(-90)" font-size="10.6" fill="#111" color="#111" textLength="162.00" lengthAdjust="spacingAndGlyphs">Partial LOS-integrated Pressure</text>
<text transform="translate(11.9,149.4) rotate(-90)" font-size="10.6" fill="#111" color="#111" textLength="61.00" lengthAdjust="spacingAndGlyphs">[pdynes cm</text>
<text transform="translate(6.2,88.6) rotate(-90)" font-size="6.8" fill="#111" color="#111" textLength="6.00" lengthAdjust="spacingAndGlyphs">-2</text>
<text transform="translate(11.9,79.2) rotate(-90)" font-size="10.6" fill="#111" color="#111" textLength="18.60" lengthAdjust="spacingAndGlyphs">AU]</text>
<text transform="translate(470.4,290.6) rotate(-90)" font-size="10.8" fill="#111" color="#111" textLength="132.10" lengthAdjust="spacingAndGlyphs">1 AU Solar Wind Pressure</text>
<text transform="translate(470.4,155.6) rotate(-90)" font-size="10.8" fill="#111" color="#111" textLength="59.70" lengthAdjust="spacingAndGlyphs">[ndynes cm</text>
<text transform="translate(464.8,94.5) rotate(-90)" font-size="6.8" fill="#111" color="#111" textLength="5.60" lengthAdjust="spacingAndGlyphs">-2</text>
<text transform="translate(470.4,88.0) rotate(-90)" font-size="10.8" fill="#111" color="#111" textLength="3.30" lengthAdjust="spacingAndGlyphs">]</text>
<line x1="51.70" y1="502.50" x2="51.70" y2="494.50" stroke="#707070" stroke-width="1.0"/>
<line x1="51.70" y1="392.00" x2="51.70" y2="400.00" stroke="#707070" stroke-width="1.0"/>
<line x1="64.92" y1="502.50" x2="64.92" y2="498.50" stroke="#707070" stroke-width="1.0"/>
<line x1="64.92" y1="392.00" x2="64.92" y2="396.00" stroke="#707070" stroke-width="1.0"/>
<line x1="78.15" y1="502.50" x2="78.15" y2="498.50" stroke="#707070" stroke-width="1.0"/>
<line x1="78.15" y1="392.00" x2="78.15" y2="396.00" stroke="#707070" stroke-width="1.0"/>
<line x1="91.38" y1="502.50" x2="91.38" y2="498.50" stroke="#707070" stroke-width="1.0"/>
<line x1="91.38" y1="392.00" x2="91.38" y2="396.00" stroke="#707070" stroke-width="1.0"/>
<line x1="104.60" y1="502.50" x2="104.60" y2="494.50" stroke="#707070" stroke-width="1.0"/>
<line x1="104.60" y1="392.00" x2="104.60" y2="400.00" stroke="#707070" stroke-width="1.0"/>
<line x1="117.83" y1="502.50" x2="117.83" y2="498.50" stroke="#707070" stroke-width="1.0"/>
<line x1="117.83" y1="392.00" x2="117.83" y2="396.00" stroke="#707070" stroke-width="1.0"/>
<line x1="131.05" y1="502.50" x2="131.05" y2="498.50" stroke="#707070" stroke-width="1.0"/>
<line x1="131.05" y1="392.00" x2="131.05" y2="396.00" stroke="#707070" stroke-width="1.0"/>
<line x1="144.28" y1="502.50" x2="144.28" y2="498.50" stroke="#707070" stroke-width="1.0"/>
<line x1="144.28" y1="392.00" x2="144.28" y2="396.00" stroke="#707070" stroke-width="1.0"/>
<line x1="157.50" y1="502.50" x2="157.50" y2="494.50" stroke="#707070" stroke-width="1.0"/>
<line x1="157.50" y1="392.00" x2="157.50" y2="400.00" stroke="#707070" stroke-width="1.0"/>
<line x1="170.73" y1="502.50" x2="170.73" y2="498.50" stroke="#707070" stroke-width="1.0"/>
<line x1="170.73" y1="392.00" x2="170.73" y2="396.00" stroke="#707070" stroke-width="1.0"/>
<line x1="183.95" y1="502.50" x2="183.95" y2="498.50" stroke="#707070" stroke-width="1.0"/>
<line x1="183.95" y1="392.00" x2="183.95" y2="396.00" stroke="#707070" stroke-width="1.0"/>
<line x1="197.18" y1="502.50" x2="197.18" y2="498.50" stroke="#707070" stroke-width="1.0"/>
<line x1="197.18" y1="392.00" x2="197.18" y2="396.00" stroke="#707070" stroke-width="1.0"/>
<line x1="210.40" y1="502.50" x2="210.40" y2="494.50" stroke="#707070" stroke-width="1.0"/>
<line x1="210.40" y1="392.00" x2="210.40" y2="400.00" stroke="#707070" stroke-width="1.0"/>
<line x1="223.62" y1="502.50" x2="223.62" y2="498.50" stroke="#707070" stroke-width="1.0"/>
<line x1="223.62" y1="392.00" x2="223.62" y2="396.00" stroke="#707070" stroke-width="1.0"/>
<line x1="236.85" y1="502.50" x2="236.85" y2="498.50" stroke="#707070" stroke-width="1.0"/>
<line x1="236.85" y1="392.00" x2="236.85" y2="396.00" stroke="#707070" stroke-width="1.0"/>
<line x1="250.07" y1="502.50" x2="250.07" y2="498.50" stroke="#707070" stroke-width="1.0"/>
<line x1="250.07" y1="392.00" x2="250.07" y2="396.00" stroke="#707070" stroke-width="1.0"/>
<line x1="263.30" y1="502.50" x2="263.30" y2="494.50" stroke="#707070" stroke-width="1.0"/>
<line x1="263.30" y1="392.00" x2="263.30" y2="400.00" stroke="#707070" stroke-width="1.0"/>
<line x1="276.52" y1="502.50" x2="276.52" y2="498.50" stroke="#707070" stroke-width="1.0"/>
<line x1="276.52" y1="392.00" x2="276.52" y2="396.00" stroke="#707070" stroke-width="1.0"/>
<line x1="289.75" y1="502.50" x2="289.75" y2="498.50" stroke="#707070" stroke-width="1.0"/>
<line x1="289.75" y1="392.00" x2="289.75" y2="396.00" stroke="#707070" stroke-width="1.0"/>
<line x1="302.98" y1="502.50" x2="302.98" y2="498.50" stroke="#707070" stroke-width="1.0"/>
<line x1="302.98" y1="392.00" x2="302.98" y2="396.00" stroke="#707070" stroke-width="1.0"/>
<line x1="316.20" y1="502.50" x2="316.20" y2="494.50" stroke="#707070" stroke-width="1.0"/>
<line x1="316.20" y1="392.00" x2="316.20" y2="400.00" stroke="#707070" stroke-width="1.0"/>
<line x1="329.43" y1="502.50" x2="329.43" y2="498.50" stroke="#707070" stroke-width="1.0"/>
<line x1="329.43" y1="392.00" x2="329.43" y2="396.00" stroke="#707070" stroke-width="1.0"/>
<line x1="342.65" y1="502.50" x2="342.65" y2="498.50" stroke="#707070" stroke-width="1.0"/>
<line x1="342.65" y1="392.00" x2="342.65" y2="396.00" stroke="#707070" stroke-width="1.0"/>
<line x1="355.88" y1="502.50" x2="355.88" y2="498.50" stroke="#707070" stroke-width="1.0"/>
<line x1="355.88" y1="392.00" x2="355.88" y2="396.00" stroke="#707070" stroke-width="1.0"/>
<line x1="369.10" y1="502.50" x2="369.10" y2="494.50" stroke="#707070" stroke-width="1.0"/>
<line x1="369.10" y1="392.00" x2="369.10" y2="400.00" stroke="#707070" stroke-width="1.0"/>
<line x1="382.32" y1="502.50" x2="382.32" y2="498.50" stroke="#707070" stroke-width="1.0"/>
<line x1="382.32" y1="392.00" x2="382.32" y2="396.00" stroke="#707070" stroke-width="1.0"/>
<line x1="395.55" y1="502.50" x2="395.55" y2="498.50" stroke="#707070" stroke-width="1.0"/>
<line x1="395.55" y1="392.00" x2="395.55" y2="396.00" stroke="#707070" stroke-width="1.0"/>
<line x1="408.77" y1="502.50" x2="408.77" y2="498.50" stroke="#707070" stroke-width="1.0"/>
<line x1="408.77" y1="392.00" x2="408.77" y2="396.00" stroke="#707070" stroke-width="1.0"/>
<line x1="422.00" y1="502.50" x2="422.00" y2="494.50" stroke="#707070" stroke-width="1.0"/>
<line x1="422.00" y1="392.00" x2="422.00" y2="400.00" stroke="#707070" stroke-width="1.0"/>
<line x1="38.50" y1="496.69" x2="42.50" y2="496.69" stroke="#707070" stroke-width="1.0"/>
<line x1="435.50" y1="496.69" x2="431.50" y2="496.69" stroke="#707070" stroke-width="1.0"/>
<line x1="38.50" y1="491.18" x2="42.50" y2="491.18" stroke="#707070" stroke-width="1.0"/>
<line x1="435.50" y1="491.18" x2="431.50" y2="491.18" stroke="#707070" stroke-width="1.0"/>
<line x1="38.50" y1="485.67" x2="42.50" y2="485.67" stroke="#707070" stroke-width="1.0"/>
<line x1="435.50" y1="485.67" x2="431.50" y2="485.67" stroke="#707070" stroke-width="1.0"/>
<line x1="38.50" y1="480.16" x2="46.50" y2="480.16" stroke="#707070" stroke-width="1.0"/>
<line x1="435.50" y1="480.16" x2="427.50" y2="480.16" stroke="#707070" stroke-width="1.0"/>
<line x1="38.50" y1="474.65" x2="42.50" y2="474.65" stroke="#707070" stroke-width="1.0"/>
<line x1="435.50" y1="474.65" x2="431.50" y2="474.65" stroke="#707070" stroke-width="1.0"/>
<line x1="38.50" y1="469.14" x2="42.50" y2="469.14" stroke="#707070" stroke-width="1.0"/>
<line x1="435.50" y1="469.14" x2="431.50" y2="469.14" stroke="#707070" stroke-width="1.0"/>
<line x1="38.50" y1="463.63" x2="42.50" y2="463.63" stroke="#707070" stroke-width="1.0"/>
<line x1="435.50" y1="463.63" x2="431.50" y2="463.63" stroke="#707070" stroke-width="1.0"/>
<line x1="38.50" y1="458.12" x2="46.50" y2="458.12" stroke="#707070" stroke-width="1.0"/>
<line x1="435.50" y1="458.12" x2="427.50" y2="458.12" stroke="#707070" stroke-width="1.0"/>
<line x1="38.50" y1="452.61" x2="42.50" y2="452.61" stroke="#707070" stroke-width="1.0"/>
<line x1="435.50" y1="452.61" x2="431.50" y2="452.61" stroke="#707070" stroke-width="1.0"/>
<line x1="38.50" y1="447.10" x2="42.50" y2="447.10" stroke="#707070" stroke-width="1.0"/>
<line x1="435.50" y1="447.10" x2="431.50" y2="447.10" stroke="#707070" stroke-width="1.0"/>
<line x1="38.50" y1="441.59" x2="42.50" y2="441.59" stroke="#707070" stroke-width="1.0"/>
<line x1="435.50" y1="441.59" x2="431.50" y2="441.59" stroke="#707070" stroke-width="1.0"/>
<line x1="38.50" y1="436.08" x2="46.50" y2="436.08" stroke="#707070" stroke-width="1.0"/>
<line x1="435.50" y1="436.08" x2="427.50" y2="436.08" stroke="#707070" stroke-width="1.0"/>
<line x1="38.50" y1="430.57" x2="42.50" y2="430.57" stroke="#707070" stroke-width="1.0"/>
<line x1="435.50" y1="430.57" x2="431.50" y2="430.57" stroke="#707070" stroke-width="1.0"/>
<line x1="38.50" y1="425.06" x2="42.50" y2="425.06" stroke="#707070" stroke-width="1.0"/>
<line x1="435.50" y1="425.06" x2="431.50" y2="425.06" stroke="#707070" stroke-width="1.0"/>
<line x1="38.50" y1="419.55" x2="42.50" y2="419.55" stroke="#707070" stroke-width="1.0"/>
<line x1="435.50" y1="419.55" x2="431.50" y2="419.55" stroke="#707070" stroke-width="1.0"/>
<line x1="38.50" y1="414.04" x2="46.50" y2="414.04" stroke="#707070" stroke-width="1.0"/>
<line x1="435.50" y1="414.04" x2="427.50" y2="414.04" stroke="#707070" stroke-width="1.0"/>
<line x1="38.50" y1="408.53" x2="42.50" y2="408.53" stroke="#707070" stroke-width="1.0"/>
<line x1="435.50" y1="408.53" x2="431.50" y2="408.53" stroke="#707070" stroke-width="1.0"/>
<line x1="38.50" y1="403.02" x2="42.50" y2="403.02" stroke="#707070" stroke-width="1.0"/>
<line x1="435.50" y1="403.02" x2="431.50" y2="403.02" stroke="#707070" stroke-width="1.0"/>
<line x1="38.50" y1="397.51" x2="42.50" y2="397.51" stroke="#707070" stroke-width="1.0"/>
<line x1="435.50" y1="397.51" x2="431.50" y2="397.51" stroke="#707070" stroke-width="1.0"/>
<rect x="38.5" y="392.0" width="397.0" height="110.5" fill="none" stroke="#666666" stroke-width="1.05"/>
<defs><clipPath id="bc"><rect x="38.5" y="392.0" width="397.0" height="110.5"/></clipPath></defs>
<polyline clip-path="url(#bc)" points="51.70,435.7 64.92,429.3 78.15,422.6 91.38,412.9 104.60,408.3 117.83,401.5 131.05,398.1 144.28,395.6 157.50,396 170.73,399.8 183.95,406.1 197.18,412.5 210.40,417.8 223.62,430.5 236.85,446.4 250.07,458.5 263.30,463.6 276.52,486.7 289.75,526.6 302.98,540 316.20,545 329.43,545 342.65,530 355.88,497.5 369.10,494.5 382.32,490.4 395.55,481.4 408.77,456.4 422.00,453.2" fill="none" stroke="#5ac828" stroke-width="1.5" stroke-linejoin="round"/>
<polyline clip-path="url(#bc)" points="51.70,437.2 64.92,431.3 78.15,425.5 91.38,416.5 104.60,411.8 117.83,405.5 131.05,401.8 144.28,398.7 157.50,398.1 170.73,400.9 183.95,406.1 197.18,411.6 210.40,416.3 223.62,429 236.85,442.8 250.07,454.1 263.30,459.7 276.52,478.8 289.75,504.7 302.98,520 316.20,528 329.43,530 342.65,523.4 355.88,496.8 369.10,495 382.32,495 395.55,490.7 408.77,477.2 422.00,471.3" fill="none" stroke="#e69620" stroke-width="1.5" stroke-linejoin="round"/>
<polyline clip-path="url(#bc)" points="51.70,438.3 64.92,432.6 78.15,427.3 91.38,418.8 104.60,414.6 117.83,408.7 131.05,405.1 144.28,401.5 157.50,400.2 170.73,402.3 183.95,406.1 197.18,410.8 210.40,414.6 223.62,427.3 236.85,438.2 250.07,449 263.30,454.6 276.52,469.7 289.75,484.7 302.98,488.5 316.20,492.4 329.43,496.5 342.65,498.3 355.88,494.6 369.10,496.6 382.32,499.5 395.55,500 408.77,498.4 422.00,489.4" fill="none" stroke="#000" stroke-width="1.5" stroke-linejoin="round"/>
<path d="M157.5,394.4L161.0,398.7L157.5,403.0L154.0,398.7Z" fill="#2a2aff"/>
<text x="51.70" y="513.7" font-size="10.6" text-anchor="middle" fill="#111" color="#111" textLength="6.31" lengthAdjust="spacingAndGlyphs">0</text>
<text x="104.60" y="513.7" font-size="10.6" text-anchor="middle" fill="#111" color="#111" textLength="12.61" lengthAdjust="spacingAndGlyphs">20</text>
<text x="157.50" y="513.7" font-size="10.6" text-anchor="middle" fill="#111" color="#111" textLength="12.61" lengthAdjust="spacingAndGlyphs">40</text>
<text x="210.40" y="513.7" font-size="10.6" text-anchor="middle" fill="#111" color="#111" textLength="12.61" lengthAdjust="spacingAndGlyphs">60</text>
<text x="263.30" y="513.7" font-size="10.6" text-anchor="middle" fill="#111" color="#111" textLength="12.61" lengthAdjust="spacingAndGlyphs">80</text>
<text x="316.20" y="513.7" font-size="10.6" text-anchor="middle" fill="#111" color="#111" textLength="18.92" lengthAdjust="spacingAndGlyphs">100</text>
<text x="369.10" y="513.7" font-size="10.6" text-anchor="middle" fill="#111" color="#111" textLength="18.92" lengthAdjust="spacingAndGlyphs">120</text>
<text x="422.00" y="513.7" font-size="10.6" text-anchor="middle" fill="#111" color="#111" textLength="18.92" lengthAdjust="spacingAndGlyphs">140</text>
<text x="33.3" y="506.00" font-size="10.6" text-anchor="end" fill="#111" color="#111" textLength="16.06" lengthAdjust="spacingAndGlyphs">0.0</text>
<text x="33.3" y="483.96" font-size="10.6" text-anchor="end" fill="#111" color="#111" textLength="16.06" lengthAdjust="spacingAndGlyphs">0.2</text>
<text x="33.3" y="461.92" font-size="10.6" text-anchor="end" fill="#111" color="#111" textLength="16.06" lengthAdjust="spacingAndGlyphs">0.4</text>
<text x="33.3" y="439.88" font-size="10.6" text-anchor="end" fill="#111" color="#111" textLength="16.06" lengthAdjust="spacingAndGlyphs">0.6</text>
<text x="33.3" y="417.84" font-size="10.6" text-anchor="end" fill="#111" color="#111" textLength="16.06" lengthAdjust="spacingAndGlyphs">0.8</text>
<text x="33.3" y="395.80" font-size="10.6" text-anchor="end" fill="#111" color="#111" textLength="16.06" lengthAdjust="spacingAndGlyphs">1.0</text>
<text x="236.5" y="524" font-size="10.6" text-anchor="middle" fill="#111" color="#111" textLength="138.8" lengthAdjust="spacingAndGlyphs">Heliosheath Thickness [AU]</text>
<text x="52" y="480.4" font-size="10" text-anchor="start" fill="#111" color="#111" textLength="54.9" lengthAdjust="spacingAndGlyphs">Cross Corr =</text>
<text x="116.7" y="480.4" font-size="10" text-anchor="start" fill="#111" color="#111" textLength="19.0" lengthAdjust="spacingAndGlyphs">0.94</text>
<text transform="translate(9.6,492.3) rotate(-90)" font-size="10.4" fill="#111" color="#111" textLength="89.60" lengthAdjust="spacingAndGlyphs">Cross Correlation</text>
</svg>
</body></html>
